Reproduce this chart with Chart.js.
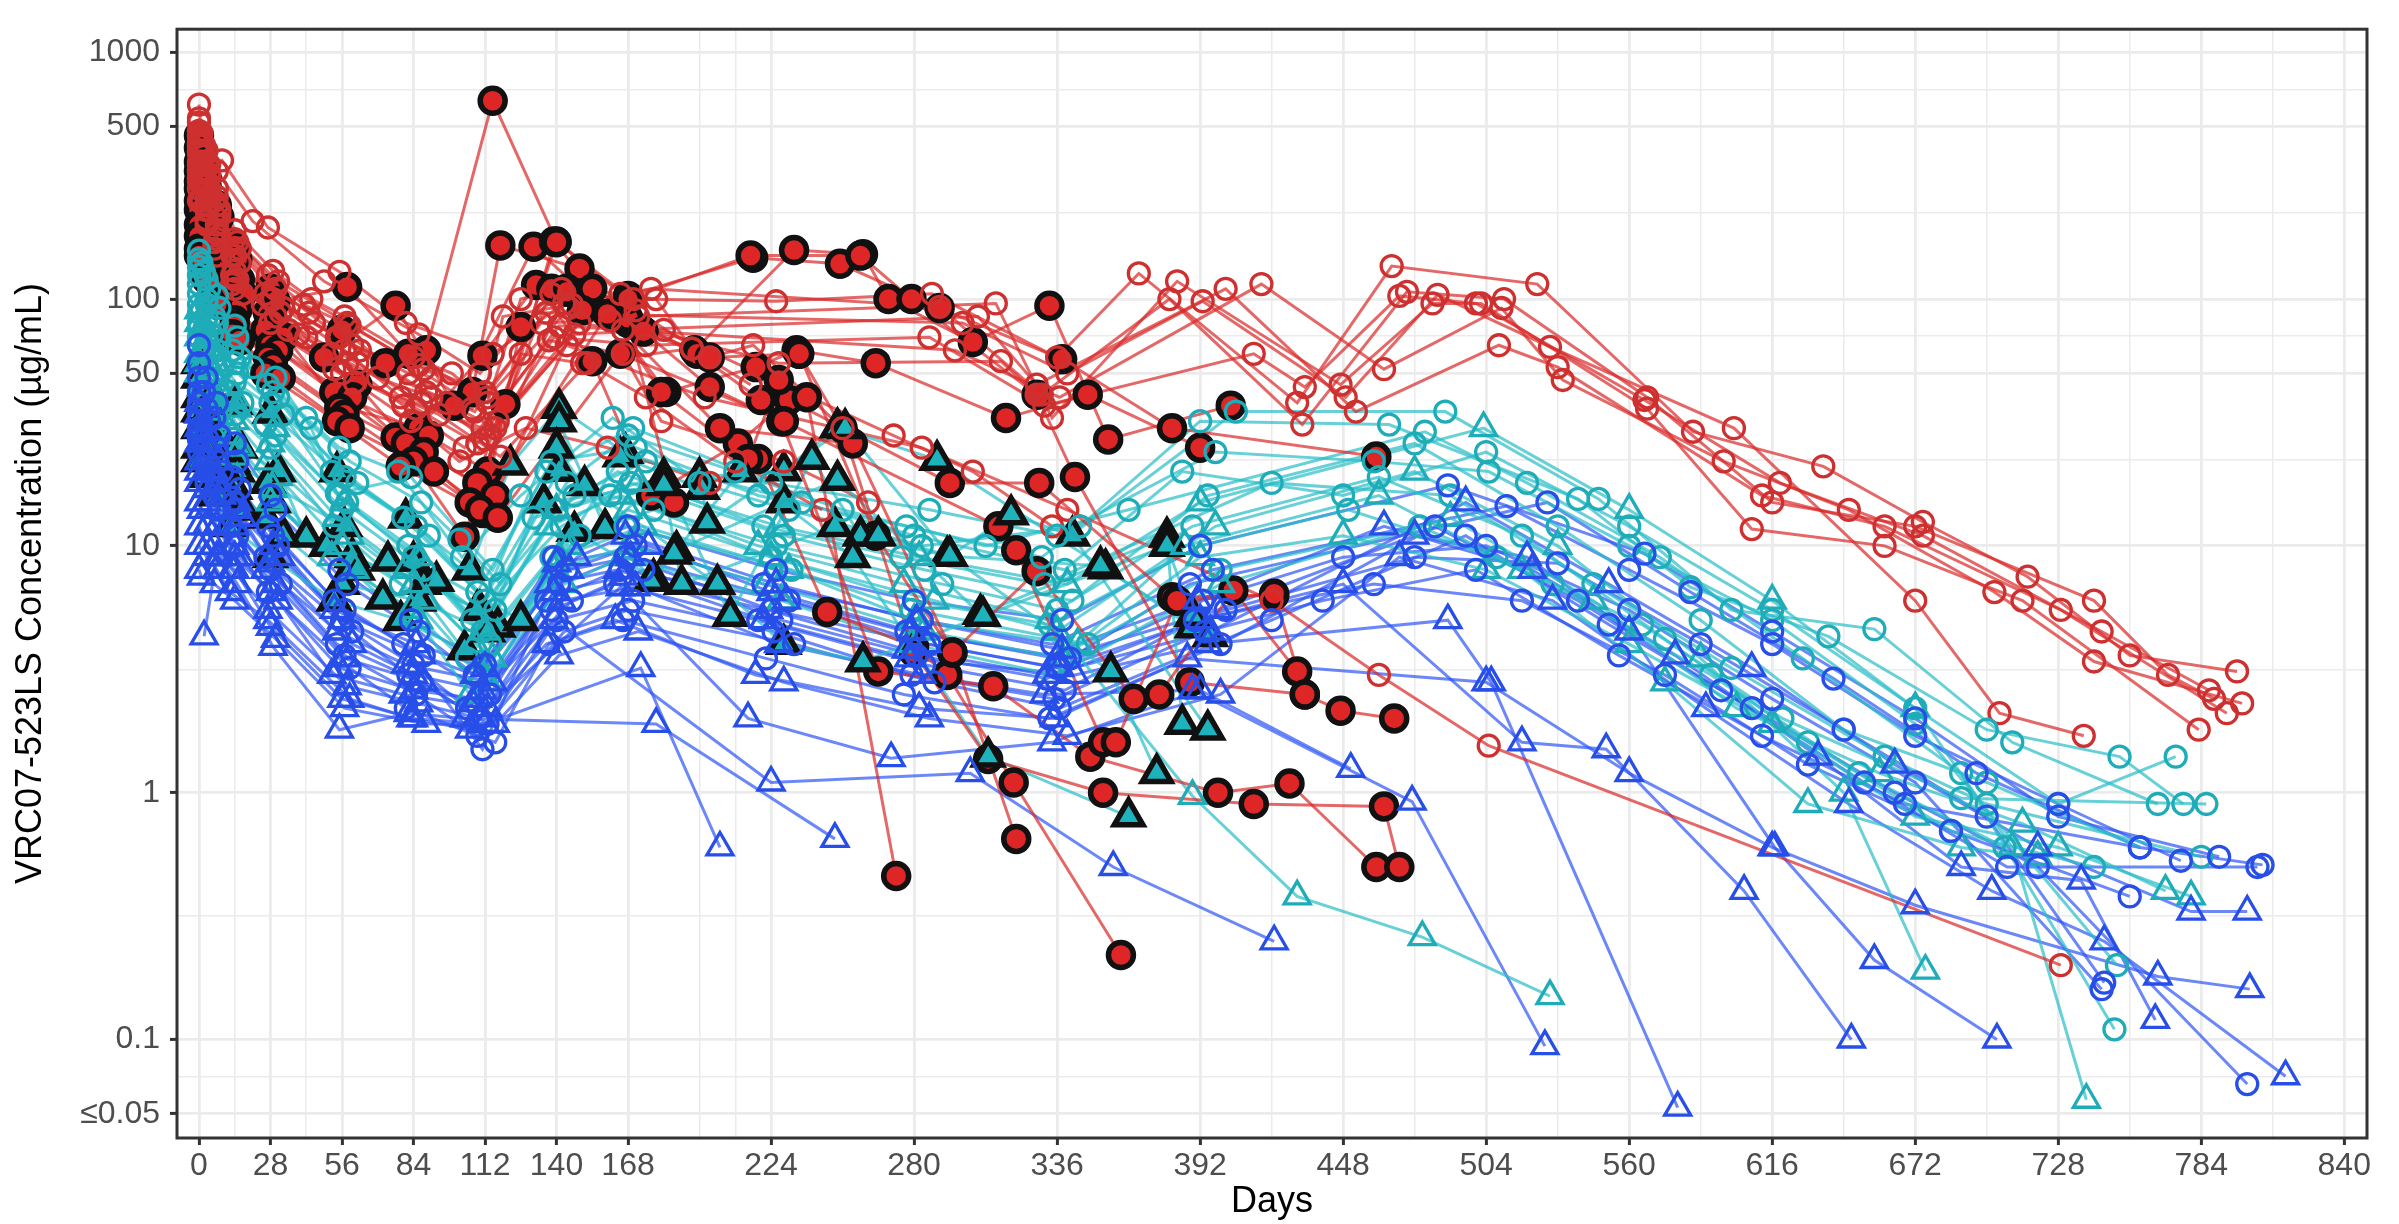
<!DOCTYPE html>
<html>
<head>
<meta charset="utf-8">
<script src="https://cdn.jsdelivr.net/npm/chart.js@4.4.0/dist/chart.umd.min.js"></script>
<style>
  html, body { margin: 0; padding: 0; background: #fff; }
  #wrap { width: 2399px; height: 1224px; }
</style>
</head>
<body>
<div id="wrap"><canvas id="pkChart" width="2399" height="1224"></canvas></div>
<script>
// ------------------------------------------------------------
// concentration data, one row per participant: [day, ug/mL]
// ------------------------------------------------------------
const redOpen = [
  [[0,614],[1,470],[3,400],[7,330],[21,207],[49,118],[86,72],[110,50],[138,105],[170,100],[226,98],[287,105],[336,58],[368,127],[430,38],[467,136],[524,115],[585,29],[636,21],[675,12.5],[716,7.5],[756,3.6],[798,3.1]],
  [[0,540],[2,420],[4,350],[9,365],[27,195],[55,129],[81,80],[115,60],[143,96],[177,110],[290,93],[330,41],[380,100],[432,31],[473,107],[511,100],[567,40],[616,15],[672,12],[742,6],[771,3],[789,2.4]],
  [[0,480],[1,390],[3,300],[6,250],[15,170],[31,118],[58,80],[88,52],[113,40],[145,92],[172,85],[312,96],[334,33],[383,118],[447,45],[483,96],[502,96],[567,36],[608,11.7],[660,10],[714,6],[783,1.8]],
  [[0,430],[1,350],[4,280],[8,220],[13,150],[29,100],[54,70],[83,45],[108,35],[136,88],[299,80],[340,50],[393,98],[449,40],[485,104],[529,64],[601,30],[672,6],[705,2.1],[738,1.7]],
  [[0,390],[2,330],[3,260],[7,200],[16,140],[26,105],[60,65],[91,48],[117,32],[149,80],[166,75],[305,85],[328,45],[402,110],[453,35],[509,65],[532,53],[612,16],[660,12],[729,5.5],[794,2.1]],
  [[0,360],[1,300],[3,240],[7,190],[14,130],[33,92],[57,62],[79,40],[111,30],[141,78],[296,62],[337,40],[416,115],[464,52],[510,92],[534,47],[597,22],[646,14],[703,6.5],[742,3.4],[800,2.3]],
  [[0,330],[4,250],[8,180],[15,120],[30,85],[62,55],[87,38],[114,28],[139,70],[175,65],[286,70],[331,37],[413,60],[433,44],[470,103],[500,96],[566,39],[619,18],[675,11],[745,4.5],[787,2.6]],
  [[0,300],[3,230],[6,170],[13,115],[28,80],[53,52],[85,36],[109,26],[144,65],[198,40],[283,25],[340,14],[420,6],[462,3.0],[505,1.55],[729,0.2]],
  [[0,520],[1,430],[3,360],[7,280],[14,190],[29,130],[44,100],[57,85],[84,58],[99,50],[113,38],[126,100],[142,110],[165,105],[179,100],[193,63]],
  [[0,460],[2,380],[4,320],[7,260],[14,175],[27,125],[41,95],[59,78],[86,54],[112,42],[119,85],[146,95],[171,90],[200,58],[217,65],[252,30]],
  [[0,420],[1,360],[3,290],[8,230],[16,160],[30,110],[43,88],[55,70],[82,50],[107,36],[134,80],[161,82],[227,55],[314,56],[328,41]],
  [[0,400],[3,300],[7,240],[14,150],[28,100],[45,80],[63,62],[89,42],[97,38],[116,30],[147,72],[182,75],[272,28],[303,20],[334,12]],
  [[0,350],[1,290],[3,230],[7,185],[13,125],[25,95],[39,72],[52,60],[70,48],[91,40],[112,27],[126,60],[150,55],[193,63],[216,45]],
  [[0,310],[3,240],[7,175],[14,120],[32,88],[42,70],[58,55],[80,37],[104,25],[137,68],[166,60],[181,32],[229,22],[262,15]],
  [[0,280],[1,250],[3,210],[6,160],[14,110],[28,80],[56,50],[94,34],[118,23],[152,55],[175,40],[210,22],[244,14]],
  [[0,250],[3,200],[7,150],[17,105],[35,75],[61,46],[83,32],[102,22],[128,30],[160,25],[200,18]]
];

const redFilled = [
  [[0,460],[1,390],[3,310],[7,240],[14,165],[28,110],[56,75],[73,55],[89,62],[115,636],[140,171],[168,103],[217,147],[251,139],[290,92],[338,57],[381,30],[461,23]],
  [[0,410],[1,350],[3,285],[8,215],[15,145],[30,98],[58,112],[82,60],[107,42],[118,165],[149,133],[169,80],[194,62],[233,158],[260,152],[270,100],[303,67],[333,94],[356,27],[404,37]],
  [[0,360],[2,300],[4,250],[7,190],[13,130],[27,88],[49,58],[77,94],[100,37],[131,163],[160,87],[183,42],[218,53],[234,62],[265,55],[316,33],[348,41],[392,25]],
  [[0,330],[1,280],[3,225],[6,175],[16,120],[29,82],[55,37],[86,30],[111,59],[132,114],[154,56],[177,16],[211,26],[231,39],[294,18],[329,18],[381,6.2],[421,6.3]],
  [[0,300],[1,260],[3,210],[7,165],[14,112],[26,75],[57,39],[77,27.5],[104,10.9],[120,37.5],[138,110],[168,80],[186,15],[219,22.5],[246,5.4],[280,3.9],[293,3.0],[319,1.1],[361,0.22]],
  [[0,280],[1,240],[4,195],[9,150],[17,105],[33,70],[62,45],[85,24],[111,13.6],[126,77],[144,110],[174,74],[200,44],[228,32],[266,3.1],[311,2.7],[349,1.4],[399,1.0],[427,1.09],[461,0.5]],
  [[0,250],[1,215],[3,175],[7,135],[12,95],[28,65],[53,42],[90,28],[113,20],[139,171],[154,110],[181,42],[215,22.5],[227,47],[238,40],[273,0.46]],
  [[0,230],[3,170],[7,130],[15,90],[31,62],[60,40],[81,26],[109,18],[144,107],[168,84],[195,60],[220,39],[235,60],[265,11],[295,3.7],[320,0.65]],
  [[0,200],[1,180],[3,150],[8,115],[14,82],[27,58],[55,36],[88,24],[116,16],[150,90],[174,74],[200,58],[235,60],[252,30],[280,3.7],[309,1.37],[354,1.0],[413,0.9],[464,0.88],[470,0.5]],
  [[0,180],[2,140],[6,108],[14,78],[29,54],[57,34],[84,22],[106,15],[140,170],[168,100],[216,150],[259,150],[279,100],[328,41],[343,19],[388,2.8],[433,2.5],[447,2.15],[468,2.0]],
  [[0,160],[3,130],[7,100],[13,72],[26,50],[54,32],[79,21],[110,14],[160,87],[204,30],[256,26],[295,3.7],[328,7.9],[366,2.4],[376,2.5],[405,6.6],[430,3.1]],
  [[0,150],[3,120],[7,95],[16,68],[32,48],[59,30],[92,20],[117,13],[165,60],[229,32],[313,12],[320,9.6],[354,1.6],[359,1.6],[383,6.0],[421,6.4],[433,2.5]]
];

const tealFilled = [
  [[0,55],[3,42],[7,38],[14,37.5],[28,34.6],[54,20],[81,13],[106,8],[122,21.3],[141,36.2],[167,23.8],[196,19],[229,20.2],[250,30.2],[289,22.3],[355,8.1],[389,4.67]],
  [[0,48],[4,31.5],[8,28],[16,25],[31,20],[42,10.9],[60,9],[88,7],[110,5.5],[141,31.9],[159,11.8],[182,19],[208,5.2],[240,22.5],[259,11],[293,9.1],[353,8.3],[396,4.3]],
  [[0,40],[1,35],[6,26],[13,22],[27,18],[57,12],[74,8.7],[109,5.5],[141,20.1],[151,17.6],[187,9.6],[229,15],[250,18.5],[306,5.3],[379,10.9],[385,1.9]],
  [[0,35],[3,29.5],[7,24],[15,20],[29,15],[50,10],[72,6.1],[93,7.2],[117,4.7],[147,11.5],[178,7.4],[212,20],[256,9],[309,1.4],[364,0.8]],
  [[0,30],[2,26],[7,21],[14,17],[26,13],[62,8],[84,8.7],[126,5],[165,23],[197,17],[199,12.4],[253,30],[294,9.1],[318,13.4],[342,11],[395,1.8]],
  [[0,25],[3,22],[9,18],[17,14],[33,11],[56,7],[86,6],[113,4.5],[140,25],[177,7.2],[186,9.3],[203,7],[229,4],[260,3.4],[307,5.2],[379,10],[389,5.2]],
  [[0,22],[3,19],[7,16],[12,12],[28,9],[53,6],[79,5],[104,3.8],[135,15],[182,17.6],[189,7],[249,12],[266,11],[294,9.1],[357,3.1],[375,1.2]]
];

const tealCircle = [
  [[0,157],[1,140],[3,120],[7,103],[14,78],[21,53],[42,33],[55,25],[78,20],[103,9],[126,16],[162,33],[196,18],[231,14],[283,10],[345,12],[392,32],[466,31],[540,15.5],[584,6.8],[638,4.3],[700,1.8],[752,1.4],[777,0.9]],
  [[0,145],[2,128],[4,110],[8,92],[15,70],[30,48],[44,30],[54,16.3],[83,19],[115,8],[138,22],[171,25],[219,16],[277,12],[330,9],[406,35],[488,35],[548,15.5],[600,5.5],[656,4.6],[710,1.6],[767,0.9]],
  [[0,135],[3,100],[6,85],[13,62],[27,45],[59,22],[87,15],[102,10.6],[118,7],[144,18],[168,28],[210,20],[252,14],[308,10],[364,14],[480,29],[520,18],[572,9],[628,3.5],[690,1.2],[750,0.11]],
  [[0,125],[3,95],[7,80],[16,58],[29,42],[52,20],[80,13],[109,6.5],[136,20],[170,30],[224,18],[286,14],[336,11],[398,24],[460,22],[505,20],[560,10],[616,5],[672,1.9],[751,0.2]],
  [[0,115],[1,90],[5,72],[14,55],[31,40],[57,19],[85,12],[112,6],[147,16],[175,22],[236,15],[280,11],[339,8],[385,20],[448,16],[504,24],[560,12],[616,5.5],[672,2.2],[728,0.9],[774,1.4]],
  [[0,105],[3,85],[8,68],[15,50],[28,38],[62,18],[90,11],[116,5.5],[140,14],[164,20],[221,12],[275,9],[331,7],[420,18],[490,16],[546,7],[600,3.2],[660,1.4],[700,0.9],[784,0.55]],
  [[0,95],[2,75],[7,62],[14,46],[33,34],[55,16],[82,10],[107,5],[142,12],[169,18],[229,11],[284,8],[342,6],[395,16],[476,26],[532,12],[588,5],[644,1.8],[700,1.1],[760,0.6]],
  [[0,88],[3,70],[6,58],[12,42],[26,31],[58,15],[84,9],[111,4.5],[131,13],[161,16],[226,10],[291,7],[336,5.5],[389,12],[462,19],[518,11],[574,4.2],[630,1.6],[686,0.7],[742,0.5]],
  [[0,80],[4,62],[9,52],[17,38],[30,28],[56,14],[88,8],[114,4],[149,11],[178,14],[224,9],[280,6],[333,4.8],[392,10],[450,14],[508,9],[565,4.8],[620,2],[690,0.95],[786,0.9]],
  [[0,70],[3,55],[7,46],[14,34],[28,25],[53,12],[79,7],[105,3.5],[138,9],[167,12],[232,8],[279,5.5],[348,4],[400,8],[478,12],[530,7],[592,3],[650,1.2],[707,0.6]]
];

const tealTriangle = [
  [[0,90],[3,70],[7,55],[14,40],[30,30],[57,15],[86,9],[112,4.5],[140,14],[172,18],[227,12],[282,9],[340,7],[392,15],[503,30],[560,14],[616,6],[672,2.2],[710,0.6],[739,0.057]],
  [[0,80],[2,62],[6,50],[15,36],[28,26],[54,13],[81,8],[108,4],[137,12],[165,16],[219,10],[276,7],[333,5],[389,0.97],[430,0.38],[479,0.26],[529,0.15]],
  [[0,70],[3,55],[8,44],[14,32],[27,22],[59,11],[84,7],[115,3.5],[145,10],[168,14],[224,9],[288,6],[336,4.5],[398,12],[476,20],[532,10],[588,3.5],[644,1.0],[676,0.19]],
  [[0,60],[4,48],[7,38],[13,28],[31,19],[56,10],[89,6],[111,3],[141,9],[174,12],[231,8],[280,5],[344,4],[386,10],[462,16],[518,8],[574,2.8],[630,0.9],[690,0.6],[720,0.55]],
  [[0,55],[1,44],[7,35],[16,25],[29,17],[52,9],[83,5.5],[113,2.8],[139,8],[169,10],[222,7],[284,4.5],[338,3.5],[392,9],[448,11],[504,8],[560,4],[616,1.9],[672,0.8],[728,0.6],[780,0.38]],
  [[0,50],[3,40],[6,32],[14,23],[28,15],[61,8],[86,5],[106,2.5],[143,7],[166,9],[228,6],[279,4],[335,3],[400,7],[490,13],[546,6],[602,2.2],[658,1.2],[714,0.75],[770,0.4]]
];

const blueCircle = [
  [[0,65],[3,48],[7,38],[14,26],[28,16],[55,8],[83,5],[112,3.3],[139,9],[168,12],[226,8],[280,6],[338,5],[392,10],[489,17.6],[566,9.3],[616,4.5],[672,2],[728,0.8],[791,0.55]],
  [[0,55],[2,42],[6,33],[15,22],[30,14],[58,7],[86,4.5],[108,3],[144,8],[171,10],[221,7],[283,5],[334,4],[397,8],[512,14.5],[560,8],[616,4],[672,1.7],[728,0.9],[776,0.53]],
  [[0,48],[3,36],[8,28],[13,19],[27,12],[53,6],[80,4],[111,1.5],[136,6],[165,8],[231,6],[277,4.5],[341,3.5],[388,7],[528,15],[584,6.5],[640,2.9],[696,1.2],[760,0.6],[808,0.51]],
  [[0,42],[4,32],[7,25],[16,17],[29,11],[57,5.5],[88,3.6],[114,2.5],[141,7],[167,9],[224,5.5],[286,4],[336,3.2],[393,6],[448,9],[504,10],[560,5.5],[616,2.4],[672,1.1],[745,0.16]],
  [[0,38],[1,28],[7,22],[14,15],[31,10],[56,5],[84,3.3],[105,2.2],[146,6],[174,8],[228,5],[281,3.6],[332,2.9],[402,5.5],[476,9],[532,8.5],[588,4],[644,1.8],[700,0.8],[746,0.17]],
  [[0,34],[3,25],[9,20],[14,14],[26,9],[60,4.5],[82,3],[110,2],[138,5.5],[163,7],[219,5],[284,3.3],[339,2.6],[390,5],[460,7],[518,6],[574,3],[630,1.3],[686,0.7],[756,0.38]],
  [[0,30],[3,22],[7,18],[12,12],[28,8],[54,4],[87,2.8],[113,1.9],[140,5],[170,6],[225,4.5],[279,3],[335,2.4],[394,4.5],[440,6],[500,8],[556,3.6],[612,1.7],[668,0.9],[760,0.6]],
  [[0,27],[4,20],[6,16],[15,11],[32,7],[57,3.6],[85,2.5],[109,1.7],[143,4.5],[168,5.5],[233,4],[288,2.8],[337,2.2],[420,5],[496,11],[552,4.8],[608,2.2],[664,1],[720,0.5],[802,0.066]],
  [[0,24],[3,18],[8,14],[14,10],[27,6.5],[59,3.2],[81,2.2],[116,1.6],[137,4],[166,5],[222,3.5],[276,2.5],[333,2],[400,4],[484,12],[540,6],[596,2.6],[652,1.1],[708,0.5],[806,0.5]]
];

const blueTriangle = [
  [[2,4.3],[7,9],[14,8],[28,4.7],[56,2.4],[84,2],[112,1.9],[173,3.2],[204,0.6]],
  [[0,12],[3,10],[8,9],[15,7],[29,3.9],[55,1.8],[82,2.1],[104,2],[179,1.9],[249,0.65]],
  [[0,15],[3,12],[6,10],[13,8],[27,5.5],[58,2.7],[86,2.3],[110,2],[139,5],[224,1.1],[302,1.2],[358,0.5],[421,0.25]],
  [[0,18],[1,14],[7,12],[16,9],[31,6],[52,3],[80,2.5],[113,2.2],[165,6.8],[215,2.0],[271,1.38],[334,1.6],[392,2.6],[451,1.25]],
  [[0,22],[3,17],[7,14],[14,10],[30,7],[57,3.5],[88,2.8],[107,2.3],[142,6],[171,6.8],[227,4],[283,3],[331,2.5],[389,2.6],[475,0.92],[527,0.094]],
  [[0,26],[4,20],[9,16],[14,12],[26,8],[60,4],[84,3],[111,2.6],[137,7],[164,8],[221,5],[278,3.5],[343,3],[395,4],[489,5],[506,2.8],[579,0.053]],
  [[0,30],[3,23],[7,18],[17,13],[28,8.5],[54,4.5],[81,3.3],[115,2.8],[145,8],[169,9],[230,6],[285,4],[337,3.2],[392,5],[448,7],[518,1.6],[551,1.5],[605,0.4],[647,0.1]],
  [[0,34],[2,26],[6,20],[14,14],[32,9],[56,5],[87,3.6],[108,3],[140,8.5],[176,10],[224,6.5],[279,4.5],[336,3.5],[399,5.5],[476,11],[520,9],[560,4.5],[617,0.6],[656,0.21],[704,0.1]],
  [[0,38],[3,29],[8,22],[15,15],[29,10],[53,5.5],[85,4],[112,3.2],[148,9],[167,11],[226,7],[281,5],[338,3.8],[391,6],[464,12],[522,8],[578,3.6],[634,1.4],[690,0.5],[737,0.44],[766,0.12]],
  [[0,10],[3,9],[7,8],[12,6.5],[27,5],[59,2.4],[83,2],[106,1.8],[136,4],[163,5],[218,3],[282,2.2],[335,2],[387,3.5],[504,2.8],[560,1.2],[616,0.6],[672,0.35],[767,0.18],[803,0.16]],
  [[0,8],[1,7.5],[6,7],[14,6],[30,4.2],[57,2.2],[89,1.9],[116,1.9],[141,3.6],[172,4.5],[229,2.8],[286,2],[340,1.7],[400,2.5],[470,9],[530,6],[590,2.2],[646,0.9],[702,0.4],[746,0.25],[817,0.071]],
  [[0,20],[3,15],[7,12],[14,9],[28,6.5],[55,3.2],[84,2.6],[109,2.4],[139,6.5],[166,7.5],[223,5.5],[277,3.8],[332,3],[396,4.5],[496,15],[552,7],[608,3.2],[664,1.3],[720,0.6],[780,0.33],[802,0.33]]
];

// axis breaks (minor breaks carry an empty label)
const xTickVals = [0,14,28,42,56,84,112,140,168,196,210,224,280,336,392,420,448,476,504,532,560,588,616,644,672,700,728,756,784,812,840];
const xTickText = ['0','','28','','56','84','112','140','168','','','224','280','336','392','','448','','504','','560','','616','','672','','728','','784','','840'];
const yTickVals = [0.05,0.0707,0.1,0.316,1,3.16,10,22.4,50,70.7,100,224,500,707,1000];
const yTickText = ['≤0.05','','0.1','','1','','10','','50','','100','','500','','1000'];

// ------------------------------------------------------------
const FONT = "'Liberation Sans', Arial, Helvetica, sans-serif";
const GRID = '#EBEBEB';

const red  = { line: 'rgba(218,40,40,0.7)', mark: 'rgb(206,48,48)', fill: 'rgb(222,38,38)' };
const teal = { line: 'rgba(40,190,200,0.7)', mark: 'rgb(30,172,184)', fill: 'rgb(30,178,188)' };
const blue = { line: 'rgba(45,85,245,0.7)', mark: 'rgb(40,78,232)', fill: 'rgb(40,78,232)' };

const groups = [
  { rows: redFilled,    col: red,  shape: 'circle',   filled: true,  order: 5 },
  { rows: tealFilled,   col: teal, shape: 'triangle', filled: true,  order: 4 },
  { rows: redOpen,      col: red,  shape: 'circle',   filled: false, order: 3 },
  { rows: tealCircle,   col: teal, shape: 'circle',   filled: false, order: 2 },
  { rows: tealTriangle, col: teal, shape: 'triangle', filled: false, order: 2 },
  { rows: blueCircle,   col: blue, shape: 'circle',   filled: false, order: 1 },
  { rows: blueTriangle, col: blue, shape: 'triangle', filled: false, order: 1 }
];

function markerSize(g) {
  if (g.shape === 'circle') return g.filled ? 12.5 : 10.5;
  return g.filled ? 16.5 : 15;
}

const datasets = [];
// lines first (drawn underneath every marker)
groups.forEach(g => {
  g.rows.forEach(row => {
    datasets.push({
      data: row,
      showLine: true,
      borderColor: g.col.line,
      borderWidth: 3,
      pointRadius: 0,
      fill: false,
      tension: 0,
      order: 50
    });
  });
});
// markers
groups.forEach(g => {
  datasets.push({
    data: g.rows.flat(),
    showLine: false,
    pointStyle: g.shape,
    pointRadius: markerSize(g),
    pointBorderWidth: g.filled ? 5.5 : 3.3,
    pointBackgroundColor: g.filled ? g.col.fill : 'rgba(0,0,0,0)',
    pointBorderColor: g.filled ? '#111111' : g.col.mark,
    order: g.order
  });
});

const panelBorder = {
  id: 'panelBorder',
  afterDatasetsDraw(chart) {
    const { ctx, chartArea: a } = chart;
    ctx.save();
    ctx.strokeStyle = '#333333';
    ctx.lineWidth = 3;
    ctx.strokeRect(a.left, a.top, a.right - a.left, a.bottom - a.top);
    ctx.restore();
  }
};

const isMinorX = v => xTickText[xTickVals.indexOf(v)] === '';
const isMinorY = v => yTickText[yTickVals.indexOf(v)] === '';

new Chart(document.getElementById('pkChart'), {
  type: 'scatter',
  data: { datasets },
  options: {
    responsive: false,
    devicePixelRatio: 1,
    animation: false,
    events: [],
    layout: { padding: { top: 12, right: 32, left: 0, bottom: 0 } },
    plugins: { legend: { display: false }, tooltip: { enabled: false } },
    scales: {
      x: {
        type: 'linear',
        min: -8.6,
        max: 848.9,
        afterFit: s => { s.height = 86; },
        afterBuildTicks: s => { s.ticks = xTickVals.map(v => ({ value: v })); },
        border: { display: false },
        grid: {
          color: GRID,
          lineWidth: c => (c.tick && isMinorX(c.tick.value)) ? 1.5 : 2.8,
          tickColor: c => (c.tick && isMinorX(c.tick.value)) ? 'rgba(0,0,0,0)' : '#333333',
          tickLength: 7,
          tickWidth: 3
        },
        ticks: {
          autoSkip: false,
          maxRotation: 0,
          padding: 2,
          color: '#4D4D4D',
          font: { family: FONT, size: 32 },
          callback: (v, i) => xTickText[i]
        },
        title: {
          display: true,
          text: 'Days',
          color: '#000000',
          font: { family: FONT, size: 36 },
          padding: { top: 0, bottom: 0 }
        }
      },
      y: {
        type: 'logarithmic',
        min: 0.0399,
        max: 1240,
        afterFit: s => { s.width = 177; },
        afterBuildTicks: s => { s.ticks = yTickVals.map(v => ({ value: v })); },
        border: { display: false },
        grid: {
          color: GRID,
          lineWidth: c => (c.tick && isMinorY(c.tick.value)) ? 1.5 : 2.8,
          tickColor: c => (c.tick && isMinorY(c.tick.value)) ? 'rgba(0,0,0,0)' : '#333333',
          tickLength: 7,
          tickWidth: 3
        },
        ticks: {
          autoSkip: false,
          padding: 10,
          color: '#4D4D4D',
          font: { family: FONT, size: 32 },
          callback: (v, i) => yTickText[i]
        },
        title: {
          display: true,
          text: 'VRC07-523LS Concentration (µg/mL)',
          color: '#000000',
          font: { family: FONT, size: 36 },
          padding: { top: 9, bottom: 0 }
        }
      }
    }
  },
  plugins: [panelBorder]
});
</script>
</body>
</html>
